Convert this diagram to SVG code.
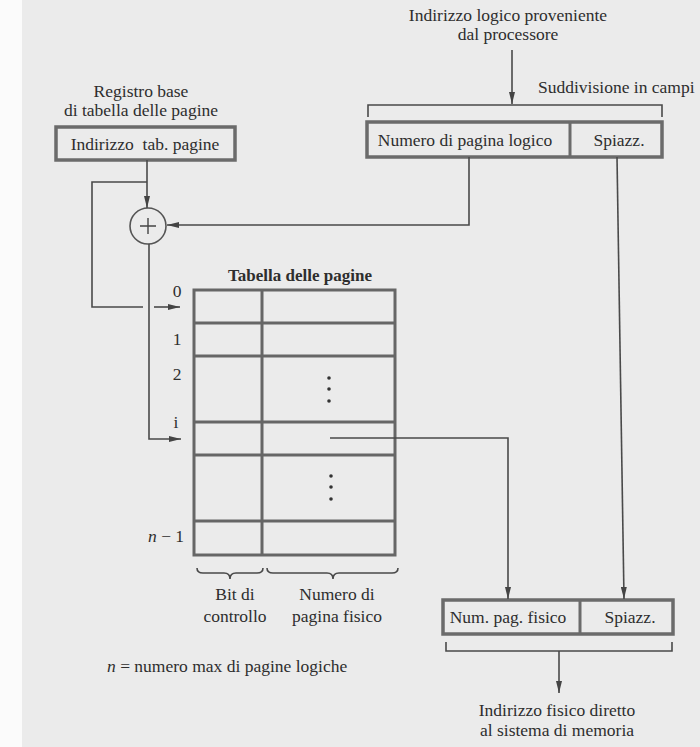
<svg xmlns="http://www.w3.org/2000/svg" width="700" height="747" viewBox="0 0 700 747">
  <style>
    text { font-family: "Liberation Serif", "Times New Roman", serif; font-size: 17.5px; fill: #2e2e2e; }
    .c { text-anchor: middle; }
    .b { font-weight: bold; font-size: 17px; }
    .box { fill: none; stroke: #6b6b6b; stroke-width: 3.5; }
    .tbl { fill: none; stroke: #666; stroke-width: 3; }
    .ln { fill: none; stroke: #4a4a4a; stroke-width: 1.6; }
    .arr { marker-end: url(#ah); }
  </style>
  <defs>
    <marker id="ah" viewBox="0 0 12 6" refX="12" refY="3" markerWidth="12" markerHeight="6" markerUnits="userSpaceOnUse" orient="auto">
      <path d="M0,0 L12,3 L0,6 Z" fill="#444"/>
    </marker>
  </defs>

  <!-- page -->
  <rect x="0" y="0" width="700" height="747" fill="#ebebeb"/>
  <rect x="0" y="0" width="22" height="747" fill="#fbfbfb"/>

  <!-- base register -->
  <g id="registro-base">
    <text class="c" x="141" y="97">Registro base</text>
    <text class="c" x="141" y="116">di tabella delle pagine</text>
    <rect class="box" x="56" y="127" width="179" height="33"/>
    <text class="c" x="145" y="150">Indirizzo&#160; tab. pagine</text>
  </g>

  <!-- adder -->
  <g id="sommatore">
    <circle cx="148" cy="226" r="18" fill="none" stroke="#555" stroke-width="1.6"/>
    <path d="M140,226 H156 M148,218 V234" stroke="#444" stroke-width="1.4" fill="none"/>
  </g>

  <!-- logical address -->
  <g id="indirizzo-logico">
    <text class="c" x="508" y="21">Indirizzo logico proveniente</text>
    <text class="c" x="508" y="40">dal processore</text>
    <text x="538" y="93">Suddivisione in campi</text>
    <path class="ln" d="M368,117 V105 H662 V117"/>
    <rect class="box" x="367" y="122" width="295" height="35"/>
    <line x1="570" y1="122" x2="570" y2="157" stroke="#6b6b6b" stroke-width="3"/>
    <text class="c" x="465" y="146">Numero di pagina logico</text>
    <text class="c" x="619" y="146">Spiazz.</text>
  </g>

  <!-- page table -->
  <g id="tabella-pagine">
    <text class="c b" x="300" y="281">Tabella delle pagine</text>
    <rect class="tbl" x="194" y="290" width="201" height="265"/>
    <line class="tbl" x1="262" y1="290" x2="262" y2="555"/>
    <path class="tbl" d="M194,323 H395 M194,356 H395 M194,422 H395 M194,455 H395 M194,521 H395"/>
    <g fill="#333">
      <circle cx="329" cy="378" r="1.8"/>
      <circle cx="329" cy="389" r="1.8"/>
      <circle cx="329" cy="401" r="1.8"/>
      <circle cx="331" cy="476" r="1.8"/>
      <circle cx="331" cy="487" r="1.8"/>
      <circle cx="331" cy="499" r="1.8"/>
    </g>
    <text class="c" x="177" y="297">0</text>
    <text class="c" x="177" y="345">1</text>
    <text class="c" x="177" y="380">2</text>
    <text class="c" x="176" y="428">i</text>
    <text x="148" y="542"><tspan font-style="italic">n</tspan>&#160;− 1</text>
    <path class="ln" d="M197,568 q0,5 6,5 h21 q6,0 6,6 q0,-6 6,-6 h21 q6,0 6,-5" stroke-width="1.2"/>
    <path class="ln" d="M267,568 q0,5 6,5 h54 q6,0 6,6 q0,-6 6,-6 h53 q6,0 6,-5" stroke-width="1.2"/>
    <text class="c" x="235" y="600">Bit di</text>
    <text class="c" x="235" y="622">controllo</text>
    <text class="c" x="337" y="600">Numero di</text>
    <text class="c" x="337" y="622">pagina fisico</text>
    <text x="107" y="672"><tspan font-style="italic">n</tspan> = numero max di pagine logiche</text>
  </g>

  <!-- physical address -->
  <g id="indirizzo-fisico">
    <rect class="box" x="443" y="600" width="230" height="34"/>
    <line x1="580" y1="600" x2="580" y2="634" stroke="#6b6b6b" stroke-width="3"/>
    <text class="c" x="508" y="623">Num. pag. fisico</text>
    <text class="c" x="630" y="623">Spiazz.</text>
    <path class="ln" d="M446,642 V651 H672 V642"/>
    <text class="c" x="557" y="716">Indirizzo fisico diretto</text>
    <text class="c" x="557" y="736">al sistema di memoria</text>
  </g>

  <!-- connectors -->
  <g id="connettori">
    <line class="ln arr" x1="512" y1="50" x2="512" y2="104"/>
    <line class="ln arr" x1="147" y1="160" x2="147" y2="208"/>
    <path class="ln" d="M147,182 H92 V307 H143"/>
    <line class="ln arr" x1="154" y1="307" x2="180" y2="307"/>
    <path class="ln arr" d="M149,244 V439 H181"/>
    <path class="ln arr" d="M469,157 V225 H167"/>
    <line class="ln arr" x1="617" y1="157" x2="624" y2="599"/>
    <path class="ln arr" d="M330,438 H508 V599"/>
    <line class="ln arr" x1="559" y1="651" x2="559" y2="693"/>
  </g>
</svg>
